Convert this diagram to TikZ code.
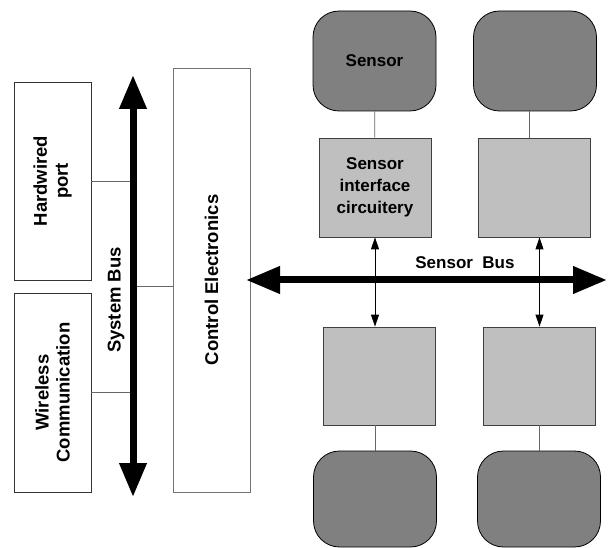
\documentclass[tikz,border=0pt]{standalone}
\usepackage{fontspec}
\setmainfont{Liberation Sans}
\usetikzlibrary{arrows.meta}

\begin{document}
\begin{tikzpicture}[x = 1pt, y = -1pt,
    font = \fontsize{17}{22}\selectfont\bfseries,
    bigtext/.style = {font = \fontsize{18.5}{21}\selectfont\bfseries},
    box/.style = {draw = black!80, line width = 0.8pt, fill = white, rotate = 90, align = center, inner sep = 0pt, bigtext},
    sensorbox/.style = {draw = black, line width = 0.8pt, fill = black!50, rounded corners = 26pt, inner sep = 0pt, minimum width = 123pt},
    ifbox/.style = {draw = black!75, line width = 0.8pt, fill = black!25, inner sep = 0pt, align = center, minimum width = 112pt, minimum height = 99pt},
    link/.style = {draw = black!60, line width = 0.8pt},
    bus/.style = {line width = 7pt, {Triangle[length = 34pt, width = 26pt]}-{Triangle[length = 34pt, width = 26pt]}},
    sig/.style = {line width = 0.8pt, {Triangle[length = 12pt, width = 8pt]}-{Triangle[length = 12pt, width = 8pt]}}
  ]
    \useasboundingbox (0, 0) rectangle (608, 548);

    % left half
    \node[box, minimum width = 198pt, minimum height = 77pt] (hwport) at (52.5, 181) {Hardwired\\port};
    \node[box, minimum width = 199pt, minimum height = 77pt] (wireless) at (52.5, 392.5) {Wireless\\Communication};
    \node[box, draw = black!55, minimum width = 424pt, minimum height = 77pt] (ctrl) at (211.5, 280) {Control Electronics};

    \coordinate (systop) at (133, 75);
    \coordinate (sysbot) at (133, 497);
    \coordinate (sysjoin) at (133, 286);
    \draw[link] (hwport.south) -- (hwport.south -| systop);
    \draw[link] (wireless.south) -- (wireless.south -| systop);
    \draw[link] (sysjoin) -- (sysjoin -| ctrl.north);
    \draw[bus] (sysbot) -- (systop);
    \node[rotate = 90, bigtext] (syslabel) at (116, 300) {System Bus};

    % right half
    \node[sensorbox, minimum height = 100pt] (sens1) at (374.5, 61) {Sensor};
    \node[sensorbox, minimum height = 100pt] (sens2) at (535, 61) {};
    \node[ifbox] (intf1) at (375, 187.5) {Sensor\\interface\\circuitery};
    \node[ifbox] (intf2) at (534.5, 187.5) {};
    \node[ifbox, minimum height = 98pt] (intf3) at (379.5, 376) {};
    \node[ifbox, minimum height = 98pt] (intf4) at (539.5, 376) {};
    \node[sensorbox, minimum height = 96pt] (sens3) at (375, 499) {};
    \node[sensorbox, minimum height = 96pt] (sens4) at (539, 499) {};

    \draw[link] (sens1) -- (intf1);
    \draw[link] ([xshift = -6pt]sens2.south) -- ([xshift = -6pt]sens2.south |- intf2.north);
    \draw[link] (intf3.south -| sens3) -- (sens3.north);
    \draw[link] (intf4.south -| sens4) -- (sens4.north);

    \draw[sig] (intf1.south) -- (intf1.south |- intf3.north);
    \draw[sig] (intf4.north |- intf2.south) -- (intf4.north);

    \coordinate (sbleft) at (246, 280);
    \coordinate (sbright) at (607, 280);
    \draw[bus] (sbleft) -- (sbright);
    \node (sblabel) at (465, 263) {Sensor\ \ Bus};

\end{tikzpicture}
\end{document}
